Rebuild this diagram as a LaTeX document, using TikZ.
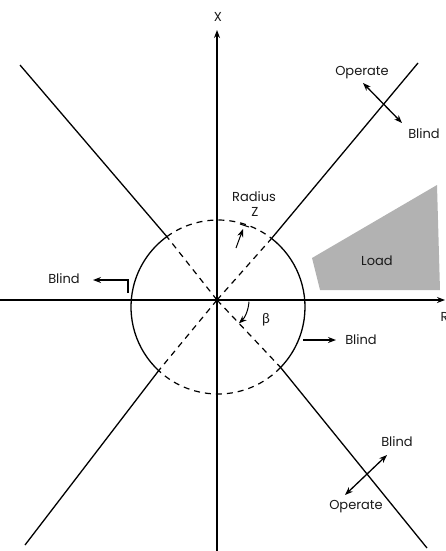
\documentclass[tikz,border=0pt]{standalone}
\usepackage{fontspec}
\setmainfont{Poppins}
\newfontfamily\grk{Lato}
\usetikzlibrary{arrows.meta,calc}
\begin{document}
\begin{tikzpicture}[x=1pt,y=-1pt, line width=1.3pt,
  lbl/.style={font=\fontsize{13}{15}\selectfont, inner sep=0pt, text=black!90},
  dsh/.style={line width=1.2pt, dash pattern=on 6pt off 5pt},
  ar/.style={-{Stealth[length=8pt,width=6pt]}},
  dar/.style={{Stealth[length=8pt,width=6pt]}-{Stealth[length=8pt,width=6pt]}},
]
\useasboundingbox (0,0) rectangle (445,551);
\clip (0,0) rectangle (445,551);
% centres
\coordinate (O) at (217,300);
\coordinate (C) at (218,307);
\coordinate (UL) at ($(C)+(-126:87)$);
\coordinate (UR) at ($(C)+(-52:87)$);
\coordinate (LL) at ($(C)+(133:87)$);
\coordinate (LR) at ($(C)+(44:87)$);
% load region
\fill[black!30] (312,258) -- (437,185) -- (440,290) -- (320,290) -- cycle;
\node[lbl] (load) at (377,261) {Load};
% axes
\coordinate (xb) at (217,551);
\coordinate (xt) at (217,30);
\coordinate (rl) at (0,300);
\coordinate (rr) at (445,300);
\draw[ar] (xb) -- (xt);
\draw[ar] (rl) -- (rr);
\node[lbl] (X) at (218,17) {X};
\node[lbl, anchor=west] (R) at (440,317) {R};
% circle
\draw ($(C)+(-52:87)$) arc[start angle=-52, end angle=44, radius=87];
\draw ($(C)+(133:87)$) arc[start angle=133, end angle=234, radius=87];
\draw[dsh] ($(C)+(234:87)$) arc[start angle=234, end angle=308, radius=87];
\draw[dsh] ($(C)+(44:87)$) arc[start angle=44, end angle=133, radius=87];
% dashed radial lines
\draw[dsh] (O) -- (UL);
\draw[dsh] (O) -- (UR);
\draw[dsh] (O) -- (LL);
\draw[dsh] (O) -- (LR);
% blinder lines
\coordinate (ULe) at (20,65);
\coordinate (URe) at (418,63);
\coordinate (LLe) at (25,545);
\coordinate (LRe) at (427,548);
\draw (UL) -- (ULe);
\draw (UR) -- (URe);
\draw (LL) -- (LLe);
\draw (LR) -- (LRe);
% operate/blind arrows
\coordinate (a1) at (363,83);
\coordinate (a2) at (402,123);
\draw[dar] (a1) -- (a2);
\node[lbl] (op1) at (362,73) {Operate};
\node[lbl] (bl1) at (424,134) {Blind};
\coordinate (b1) at (345,495);
\coordinate (b2) at (387,455);
\draw[dar] (b1) -- (b2);
\node[lbl] (bl2) at (397,442) {Blind};
\node[lbl] (op2) at (356,507) {Operate};
% left blind
\coordinate (lb0) at (128,293);
\coordinate (lb1) at (128,280);
\coordinate (lb2) at (93,280);
\draw[ar] (lb0) -- (lb1) -- (lb2);
\node[lbl] (bl3) at (64,279) {Blind};
% right blind
\coordinate (rb0) at (303,340);
\coordinate (rb1) at (336,340);
\draw[ar] (rb0) -- (rb1);
\node[lbl] (bl4) at (361,340) {Blind};
% radius
\coordinate (ra0) at (236,248);
\coordinate (ra1) at (243,229);
\draw[ar, line width=1pt] (ra0) -- (ra1);
\draw[line width=1pt] (240,224) -- (249,227);
\node[lbl] (rad) at (254,197) {Radius};
\node[lbl] (Z) at (255,212) {Z};
% beta
\draw[ar, line width=1pt] ($(O)+(3:32)$) arc[start angle=3, end angle=47, radius=32];
\node[lbl, font=\grk\fontsize{14}{16}\selectfont] (beta) at (266,320) {β};
\end{tikzpicture}
\end{document}
